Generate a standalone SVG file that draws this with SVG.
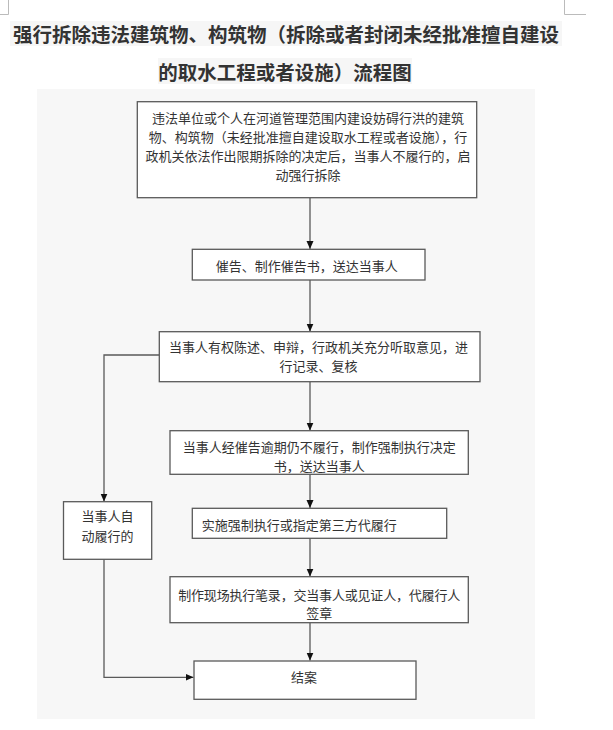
<svg xmlns="http://www.w3.org/2000/svg" width="613" height="730" viewBox="0 0 613 730">
<defs>
<marker id="arr" markerUnits="userSpaceOnUse" markerWidth="8" markerHeight="8" refX="8" refY="4" orient="auto">
<path d="M0,0.5 L8,4 L0,7.5 z" fill="#111"/>
</marker>
<style>
.box{fill:#fff;stroke:#5a5a5a;stroke-width:1.3}
.t{font-family:"Noto Sans CJK SC","Liberation Sans",sans-serif;font-size:13px;fill:#333;text-anchor:middle;dominant-baseline:central}
.ttl{font-family:"Noto Sans CJK SC","Liberation Sans",sans-serif;font-size:19.5px;font-weight:700;fill:#333;text-anchor:middle;dominant-baseline:central}
.c{fill:none;stroke:#5a5a5a;stroke-width:1.3}
.mark{stroke:#bbb;stroke-width:1;fill:none}
</style>
</defs>
<rect width="613" height="730" fill="#fff"/>
<path class="mark" d="M8.5,0 V14.5 H0 M564.5,0 V14.5 H586"/>
<g id="title">
<rect x="10" y="21" width="552" height="25" fill="#f6f6f6"/>
<rect x="158" y="58" width="254" height="26" fill="#f6f6f6"/>
<text class="ttl" x="286" y="33">强行拆除违法建筑物、构筑物（拆除或者封闭未经批准擅自建设</text>
<text class="ttl" x="285" y="71">的取水工程或者设施）流程图</text>
</g>
<rect id="panel" x="37" y="89" width="498" height="630" fill="#f7f7f7"/>
<g id="connectors">
<path class="c" d="M310,198 V249" marker-end="url(#arr)"/>
<path class="c" d="M310,280 V331.5" marker-end="url(#arr)"/>
<path class="c" d="M310,381.7 V430.5" marker-end="url(#arr)"/>
<path class="c" d="M310,474.3 V508" marker-end="url(#arr)"/>
<path class="c" d="M310,538.3 V576.5" marker-end="url(#arr)"/>
<path class="c" d="M310,622.7 V660.5" marker-end="url(#arr)"/>
<path class="c" d="M159.3,355 H104 V501.5" marker-end="url(#arr)"/>
<path class="c" d="M104,559.3 V677.3 H193.5" marker-end="url(#arr)"/>
</g>
<g id="n1">
<rect class="box" x="137.3" y="101.7" width="339.4" height="96"/>
<text class="t" x="308" y="117.7">违法单位或个人在河道管理范围内建设妨碍行洪的建筑</text>
<text class="t" x="308" y="136.7">物、构筑物（未经批准擅自建设取水工程或者设施），行</text>
<text class="t" x="308" y="155.7">政机关依法作出限期拆除的决定后，当事人不履行的，启</text>
<text class="t" x="308" y="174.5">动强行拆除</text>
</g>
<g id="n2">
<rect class="box" x="192.3" y="249.3" width="232.7" height="30.7"/>
<text class="t" x="306.7" y="265">催告、制作催告书，送达当事人</text>
</g>
<g id="n3">
<rect class="box" x="159.3" y="331.7" width="320.7" height="50"/>
<text class="t" x="318.5" y="346.7">当事人有权陈述、申辩，行政机关充分听取意见，进</text>
<text class="t" x="318.5" y="365.3">行记录、复核</text>
</g>
<g id="n4">
<rect class="box" x="170" y="430.7" width="298.3" height="43.6"/>
<text class="t" x="319.3" y="446.7">当事人经催告逾期仍不履行，制作强制执行决定</text>
<text class="t" x="319.3" y="465.5">书，送达当事人</text>
</g>
<g id="n5">
<rect class="box" x="63.5" y="501.7" width="88.2" height="57.6"/>
<text class="t" x="107.6" y="515.5">当事人自</text>
<text class="t" x="107.6" y="535">动履行的</text>
</g>
<g id="n6">
<rect class="box" x="192.3" y="508.3" width="254.4" height="30"/>
<text class="t" x="201.7" y="524" style="text-anchor:start">实施强制执行或指定第三方代履行</text>
</g>
<g id="n7">
<rect class="box" x="170" y="576.7" width="298.3" height="46"/>
<text class="t" x="319.2" y="594.3" textLength="282" lengthAdjust="spacing">制作现场执行笔录，交当事人或见证人，代履行人</text>
<text class="t" x="319.2" y="612.7">签章</text>
</g>
<g id="n8">
<rect class="box" x="194" y="661" width="222" height="38.3"/>
<text class="t" x="304" y="676.7">结案</text>
</g>
</svg>
